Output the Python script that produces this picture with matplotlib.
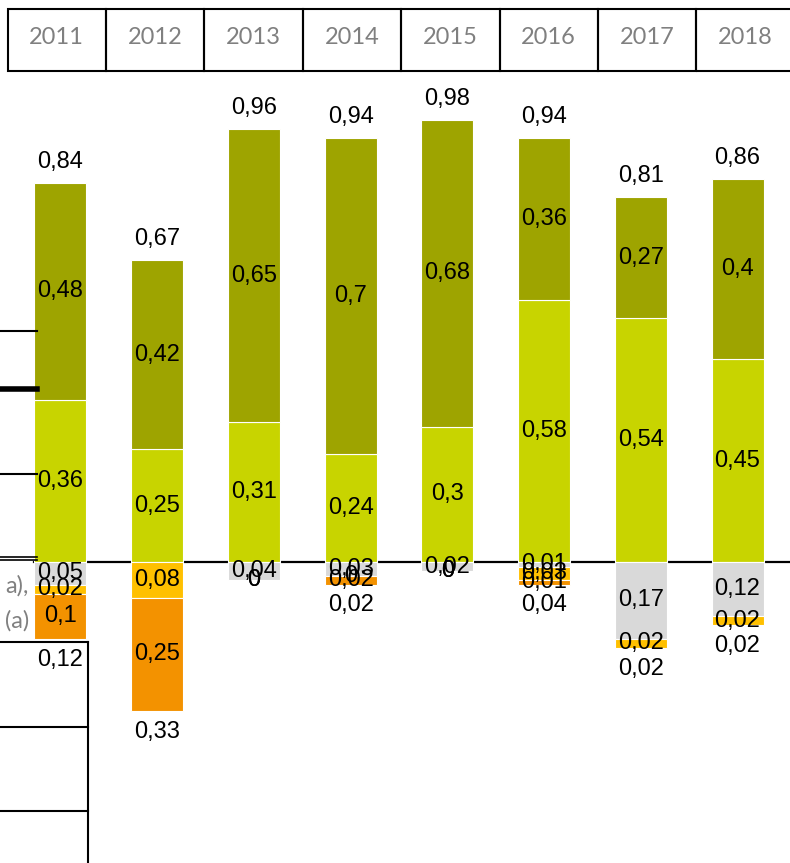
import matplotlib.pyplot as plt
from matplotlib.lines import Line2D
from matplotlib.patches import Rectangle

years = ["2011", "2012", "2013", "2014", "2015", "2016", "2017", "2018"]

# positive part (stacked upwards)
lime = [0.36, 0.25, 0.31, 0.24, 0.30, 0.58, 0.54, 0.45]
olive = [0.48, 0.42, 0.65, 0.70, 0.68, 0.36, 0.27, 0.40]
pos_total = [0.84, 0.67, 0.96, 0.94, 0.98, 0.94, 0.81, 0.86]

# negative part (stacked downwards), None = no value
grey = [0.05, None, 0.04, 0.03, 0.02, 0.01, 0.17, 0.12]
yellow = [0.02, 0.08, 0.0, 0.0, 0.0, 0.03, 0.02, 0.02]
orange = [0.10, 0.25, 0.0, 0.02, 0.0, 0.01, None, None]
neg_total = [0.12, 0.33, 0.0, 0.02, 0.0, 0.04, 0.02, 0.02]

C_OLIVE = "#9ea400"
C_LIME = "#c8d400"
C_GREY = "#d9d9d9"
C_YELLOW = "#ffc000"
C_ORANGE = "#f39200"

W, H = 790, 863


def fmt(v):
    return f"{v:g}".replace(".", ",")


def fx(px):
    return px / W


def fy(py):
    return 1 - py / H


def plot_chart(output_path):
    fig = plt.figure(figsize=(W / 100, H / 100), dpi=100)
    ax = fig.add_axes([0, 0, 1, 1])
    ax.axis("off")
    # one category = 96.7 px, one unit = 451 px, zero line at y=562 px
    ax.set_xlim(-60.45 / 96.73, (W - 60.45) / 96.73)
    ax.set_ylim(-(H - 562) / 451, 562 / 451)

    x = list(range(len(years)))
    width = 0.5376
    lab = dict(ha="center", va="center", fontsize=17, color="black",
               family=["Liberation Sans", "DejaVu Sans"])

    # zero line
    ax.plot([x[0] - width / 2, x[-1] + 1], [0, 0], color="black", lw=1.6, zorder=1)

    # positive stacks
    ax.bar(x, lime, width, color=C_LIME, edgecolor="white", linewidth=0.8, zorder=2)
    ax.bar(x, olive, width, bottom=lime, color=C_OLIVE, edgecolor="white",
           linewidth=0.8, zorder=2)
    for i in x:
        ax.text(i, lime[i] / 2, fmt(lime[i]), **lab, zorder=5)
        ax.text(i, lime[i] + olive[i] / 2, fmt(olive[i]), **lab, zorder=5)
        ax.annotate(fmt(pos_total[i]), (i, lime[i] + olive[i]), xytext=(0, 15),
                    textcoords="offset points", **lab, zorder=5)

    # negative stacks
    for i in x:
        base = 0.0
        for vals, col in ((grey, C_GREY), (yellow, C_YELLOW), (orange, C_ORANGE)):
            v = vals[i]
            if v is None:
                continue
            ax.bar(i, -v, width, bottom=-base, color=col, edgecolor="white",
                   linewidth=0.8 if v > 0 else 0, zorder=2)
            ax.text(i, -base - v / 2, fmt(v), **lab, zorder=5)
            base += v
        if neg_total[i] > 0:
            ax.annotate(fmt(neg_total[i]), (i, -base), xytext=(0, -15),
                        textcoords="offset points", **lab, zorder=5)

    # year header boxes
    grey_txt = dict(color="#808080", family="Lato", fontsize=17)
    for k, yr in enumerate(years):
        left = 7.5 + 98.4 * k
        fig.patches.append(Rectangle((fx(left), fy(71)), 98.4 / W, 62 / H,
                                     transform=fig.transFigure, fill=False,
                                     edgecolor="black", linewidth=1.5))
        fig.text(fx(left + 49.2), fy(38), yr, ha="center", va="center", **grey_txt)

    # leftovers of the legend / table on the left
    def hline(py, x0, x1, lw):
        fig.lines.append(Line2D([fx(x0), fx(x1)], [fy(py), fy(py)],
                                transform=fig.transFigure, color="black", lw=lw))

    hline(331, 0, 37, 1.5)
    hline(389, 0, 37, 4)
    hline(474, 0, 37, 1.5)
    hline(556.5, 0, 37, 1.2)
    hline(560, 0, 37, 1.2)
    for py in (642, 727, 811):
        hline(py, 0, 88, 1.5)
    fig.lines.append(Line2D([fx(88), fx(88)], [fy(642), fy(H)],
                            transform=fig.transFigure, color="black", lw=1.5))
    fig.text(fx(29), fy(586), "a),", ha="right", va="center", **grey_txt)
    fig.text(fx(29), fy(621), "(a)", ha="right", va="center", **grey_txt)

    fig.savefig(output_path, dpi=100)
    plt.close(fig)


if __name__ == "__main__":
    plot_chart("out.png")
